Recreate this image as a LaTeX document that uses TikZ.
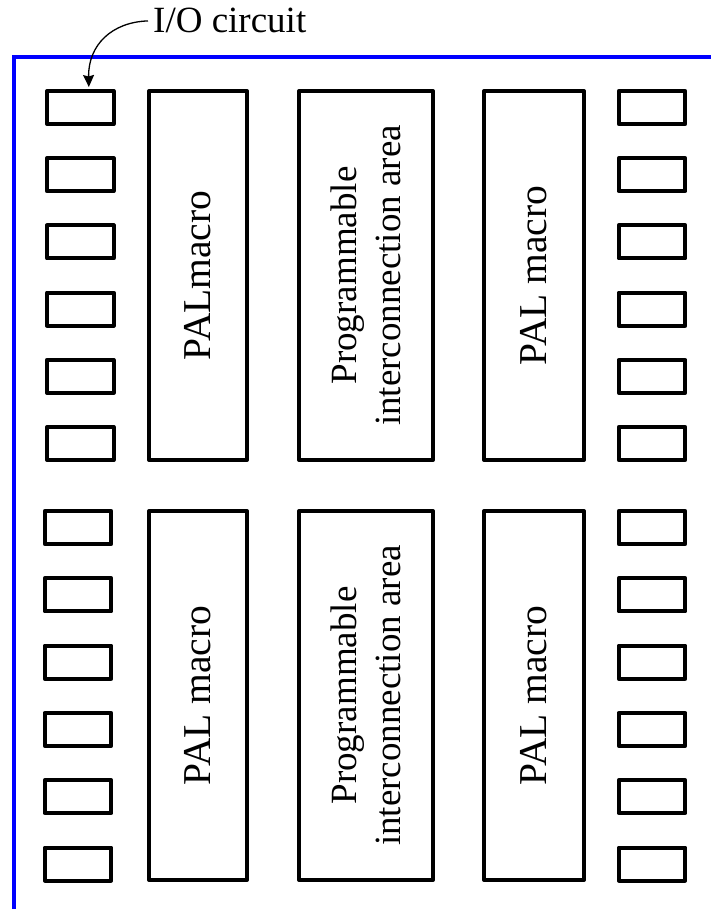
\documentclass[tikz,border=0pt]{standalone}
\usepackage{fontspec}
\setmainfont{Liberation Serif}
\newfontfamily\timesfam{Liberation Serif}
\usetikzlibrary{arrows.meta}
\begin{document}
\begin{tikzpicture}[x=1pt,y=-1pt,
  iobox/.style={draw, line width=4pt, line join=round, minimum width=66.6pt, minimum height=33pt, inner sep=0pt},
  blockbox/.style={draw, line width=4pt, line join=round, rotate=90, minimum width=369pt, inner sep=0pt, align=center, font=\timesfam\fontsize{37}{44}\selectfont},
  paltext/.style={font=\timesfam\fontsize{39.5}{46}\selectfont},
  frameline/.style={draw=blue, line width=4.3pt},
  callout/.style={line width=1.3pt, -{Stealth[length=12pt, width=11pt, inset=1.5pt]}, shorten >=2pt}]
\useasboundingbox (0,0) rectangle (711,909);
% chip frame
\draw[frameline] (14,909) -- (14,57) -- (711,57);
% I/O circuits
\foreach \i in {0,...,5} {
  \node[iobox] (lt\i) at (80.25,{107.5+67.2*\i}) {};
  \node[iobox] (rt\i) at (652,{107.5+67.2*\i}) {};
  \node[iobox] (lb\i) at (78,{527.5+67.3*\i}) {};
  \node[iobox] (rb\i) at (652,{527.5+67.3*\i}) {};
}
% blocks
\node[blockbox, paltext, minimum height=98pt] (palA) at (198,275.5) {PALmacro};
\node[blockbox, minimum height=134pt] (picA) at (366,275.5) {Programmable\\interconnection area};
\node[blockbox, paltext, minimum height=100pt] (palB) at (534,275.5) {PAL macro};
\node[blockbox, paltext, minimum height=98pt] (palC) at (198,695.5) {PAL macro};
\node[blockbox, minimum height=134pt] (picB) at (366,695.5) {Programmable\\interconnection area};
\node[blockbox, paltext, minimum height=100pt] (palD) at (534,695.5) {PAL macro};
% label
\node[anchor=base west, inner xsep=5pt, inner ysep=0pt, font=\timesfam\fontsize{37}{44}\selectfont] (io) at (148,33) {I/O circuit};
\draw[callout] (io.west) .. controls (112,22) and (88,45) .. (lt0.65);
\end{tikzpicture}
\end{document}
